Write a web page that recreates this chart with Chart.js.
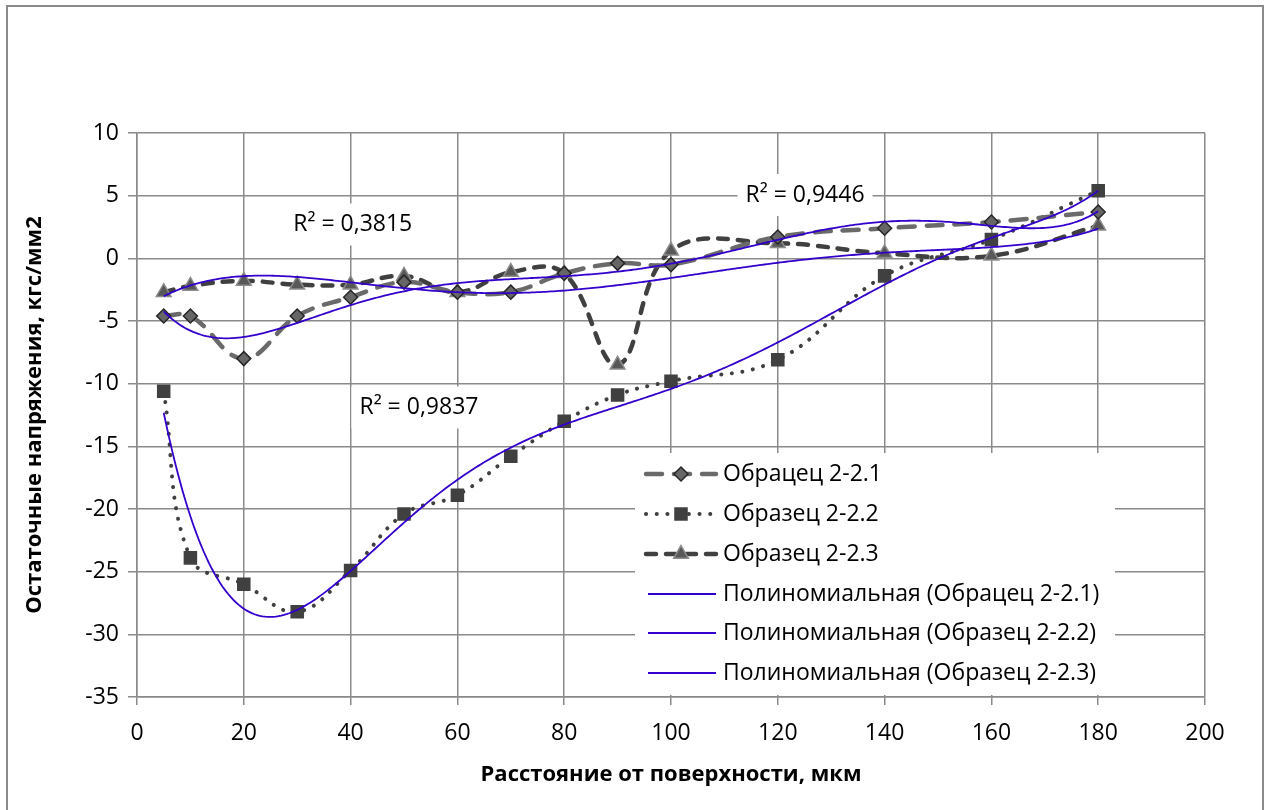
<!DOCTYPE html>
<html>
<head>
<meta charset="utf-8">
<script src="https://cdn.jsdelivr.net/npm/chart.js@4.4.1/dist/chart.umd.min.js"></script>
<style>
  html, body { margin: 0; padding: 0; background: #ffffff; }
  #wrap { position: relative; width: 1270px; height: 810px; }
  canvas { display: block; }
</style>
</head>
<body>
<div id="wrap"><canvas id="chart" width="1270" height="810"></canvas></div>
<script>
// Depth below the surface, µm
const depth = [5, 10, 20, 30, 40, 50, 60, 70, 80, 90, 100, 120, 140, 160, 180];

// Residual stress, kgf/mm2
const sample1 = [-4.6, -4.6, -8.0, -4.6, -3.1, -1.9, -2.7, -2.7, -1.2, -0.4, -0.5, 1.7, 2.4, 2.9, 3.7];
const sample2 = [-10.6, -23.9, -26.0, -28.2, -24.9, -20.4, -18.9, -15.8, -13.0, -10.9, -9.8, -8.1, -1.4, 1.5, 5.4];
const sample3 = [-2.7, -2.2, -1.8, -2.1, -2.1, -1.4, -2.7, -1.1, -1.2, -8.5, 0.6, 1.2, 0.4, 0.2, 2.6];

const seriesNames = ['Обрацец 2-2.1', 'Образец 2-2.2', 'Образец 2-2.3'];
const trendNames = seriesNames.map(n => 'Полиномиальная (' + n + ')');

const xTicks = [0, 20, 40, 60, 80, 100, 120, 140, 160, 180, 200];
const yTicks = [10, 5, 0, -5, -10, -15, -20, -25, -30, -35];

// polynomial order of each trend line
const trendOrders = [6, 6, 5];
const r2Text = ['R² = 0,9446', 'R² = 0,9837', 'R² = 0,3815'];

// least-squares polynomial trend of the given order
function polyFit(xs, ys, order) {
  const cx = 90, sx = 90;
  const t = xs.map(x => (x - cx) / sx);
  const n = order + 1;
  const A = Array.from({ length: n }, () => new Array(n + 1).fill(0));
  for (let i = 0; i < t.length; i++) {
    const pw = [1];
    for (let k = 1; k < 2 * n; k++) pw.push(pw[k - 1] * t[i]);
    for (let r = 0; r < n; r++) {
      for (let c = 0; c < n; c++) A[r][c] += pw[r + c];
      A[r][n] += pw[r] * ys[i];
    }
  }
  for (let col = 0; col < n; col++) {
    let piv = col;
    for (let r = col + 1; r < n; r++) if (Math.abs(A[r][col]) > Math.abs(A[piv][col])) piv = r;
    [A[col], A[piv]] = [A[piv], A[col]];
    for (let r = 0; r < n; r++) {
      if (r === col) continue;
      const f = A[r][col] / A[col][col];
      for (let c = col; c <= n; c++) A[r][c] -= f * A[col][c];
    }
  }
  const coef = A.map((row, i) => row[n] / row[i]);
  return x => {
    const tt = (x - cx) / sx;
    let v = 0;
    for (let k = n - 1; k >= 0; k--) v = v * tt + coef[k];
    return v;
  };
}

function trendPoints(ys, order) {
  const f = polyFit(depth, ys, order);
  const pts = [];
  for (let x = depth[0]; x <= depth[depth.length - 1]; x += 0.5) pts.push({ x: x, y: f(x) });
  return pts;
}

const samples = [sample1, sample2, sample3];
const toXY = ys => depth.map((x, i) => ({ x: x, y: ys[i] }));

const FONT = '"Open Sans", "DejaVu Sans", sans-serif';
const TREND = '#3300cc';

const styles = [
  { color: '#6a6a6a', dash: [16, 12], width: 4.5, point: 'rectRot', radius: 7, fill: '#666666', stroke: '#262626' },
  { color: '#404040', dash: [0.1, 10.6], width: 4, point: 'rect', radius: 8.5, fill: '#404040', stroke: '#404040' },
  { color: '#404040', dash: [10, 10], width: 4.5, point: 'triangle', radius: 8.5, fill: '#585858', stroke: '#8c8c8c' }
];

const datasets = [];
samples.forEach((ys, i) => {
  datasets.push({
    label: trendNames[i],
    data: trendPoints(ys, trendOrders[i]),
    borderColor: TREND,
    borderWidth: 1.8,
    pointRadius: 0,
    tension: 0,
    order: 0
  });
});
samples.forEach((ys, i) => {
  const s = styles[i];
  datasets.push({
    label: seriesNames[i],
    data: toXY(ys),
    borderColor: s.color,
    borderWidth: s.width,
    borderDash: s.dash,
    borderCapStyle: 'round',
    pointStyle: s.point,
    pointRadius: s.radius,
    pointHoverRadius: s.radius,
    pointBackgroundColor: s.fill,
    pointBorderColor: s.stroke,
    pointBorderWidth: 1.5,
    tension: 0.4,
    order: 1 + i
  });
});

// R² boxes, placed in data units
const r2Labels = [
  { text: r2Text[2], x: 40.4, y: 2.7 },
  { text: r2Text[0], x: 125.1, y: 5.05 },
  { text: r2Text[1], x: 52.8, y: -11.9 }
];

const r2Plugin = {
  id: 'r2labels',
  beforeDatasetsDraw(chart) {
    const { ctx, scales } = chart;
    ctx.save();
    ctx.font = '23px ' + FONT;
    ctx.textAlign = 'center';
    ctx.textBaseline = 'middle';
    r2Labels.forEach(l => {
      const px = scales.x.getPixelForValue(l.x);
      const py = scales.y.getPixelForValue(l.y);
      const w = ctx.measureText(l.text).width + 16;
      ctx.fillStyle = '#ffffff';
      ctx.fillRect(px - w / 2, py - 21, w, 42);
      ctx.fillStyle = '#000000';
      ctx.fillText(l.text, px, py);
    });
    ctx.restore();
  }
};

function drawMarker(ctx, s, x, y) {
  Chart.helpers.drawPoint(ctx, { pointStyle: s.point, radius: s.radius, borderWidth: 1.5 }, x, y);
}

const legendPlugin = {
  id: 'sampleLegend',
  afterDraw(chart) {
    const { ctx } = chart;
    const box = { x: 635, y: 453, w: 480, h: 242 };
    ctx.save();
    ctx.fillStyle = '#ffffff';
    ctx.fillRect(box.x, box.y, box.w, box.h);
    const x0 = 646, x1 = 716, xm = 681, tx = 723;
    const rows = [474, 514, 554, 594, 633, 673];
    ctx.font = '23px ' + FONT;
    ctx.textBaseline = 'middle';
    ctx.textAlign = 'left';
    styles.forEach((s, i) => {
      const y = rows[i];
      ctx.save();
      ctx.strokeStyle = s.color;
      ctx.lineWidth = s.width;
      ctx.lineCap = 'round';
      ctx.setLineDash(s.dash);
      ctx.beginPath(); ctx.moveTo(x0, y); ctx.lineTo(x1, y); ctx.stroke();
      ctx.restore();
      ctx.save();
      ctx.fillStyle = s.fill;
      ctx.strokeStyle = s.stroke;
      ctx.lineWidth = 1.5;
      drawMarker(ctx, s, xm, y);
      ctx.restore();
      ctx.fillStyle = '#000000';
      ctx.fillText(seriesNames[i], tx, y);
    });
    trendNames.forEach((n, i) => {
      const y = rows[3 + i];
      ctx.strokeStyle = TREND;
      ctx.lineWidth = 1.8;
      ctx.beginPath(); ctx.moveTo(x0 + 2, y); ctx.lineTo(x1, y); ctx.stroke();
      ctx.fillStyle = '#000000';
      ctx.fillText(n, tx, y);
    });
    // outer frame
    ctx.strokeStyle = '#8a8a8a';
    ctx.lineWidth = 2;
    ctx.strokeRect(7, 6, 1256, 810);
    ctx.restore();
  }
};

const GRID = '#8a8a8a';

new Chart(document.getElementById('chart'), {
  type: 'line',
  data: { datasets: datasets },
  options: {
    responsive: false,
    animation: false,
    events: [],
    layout: { padding: { left: 0, top: 133, right: 65, bottom: 0 } },
    plugins: { legend: { display: false }, tooltip: { enabled: false } },
    scales: {
      x: {
        type: 'linear',
        min: 0, max: 200,
        afterFit: s => { s.height = 113; },
        afterBuildTicks: s => { s.ticks = xTicks.map(v => ({ value: v })); },
        ticks: { font: { family: FONT, size: 23 }, color: '#000000', padding: 15, maxRotation: 0, callback: v => String(v) },
        grid: { color: GRID, lineWidth: 1.5, tickLength: 8, tickColor: GRID },
        border: { color: GRID, width: 1.5 },
        title: { display: true, text: 'Расстояние от поверхности, мкм', color: '#000000', font: { family: FONT, size: 22, weight: 'bold' }, padding: { top: 0, bottom: 22 } }
      },
      y: {
        type: 'linear',
        min: -35, max: 10,
        afterFit: s => { s.width = 137; },
        afterBuildTicks: s => { s.ticks = yTicks.map(v => ({ value: v })); },
        ticks: { font: { family: FONT, size: 23 }, color: '#000000', padding: 9, callback: v => String(v) },
        grid: { color: GRID, lineWidth: 1.5, tickLength: 9, tickColor: GRID },
        border: { color: GRID, width: 1.5 },
        title: { display: true, text: 'Остаточные напряжения, кгс/мм2', color: '#000000', font: { family: FONT, size: 22, weight: 'bold' }, padding: { top: 22, bottom: 0 } }
      }
    }
  },
  plugins: [r2Plugin, legendPlugin]
});
</script>
</body>
</html>
